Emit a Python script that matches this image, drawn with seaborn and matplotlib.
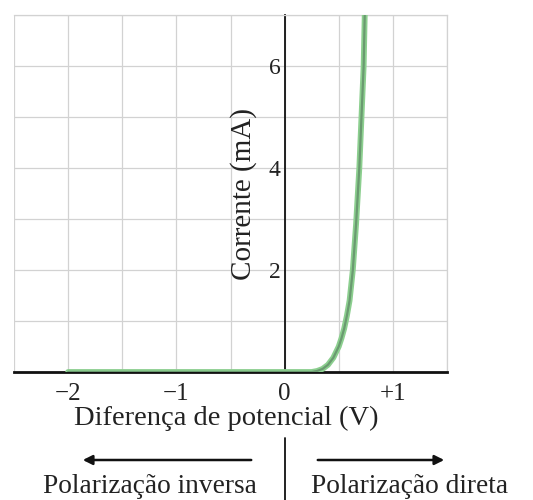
import numpy as np
import pandas as pd
import seaborn as sns
import matplotlib
matplotlib.use("Agg")
import matplotlib.pyplot as plt
from matplotlib.lines import Line2D

# diode I-V curve
voltage = [-2.0, -1.0, 0.0, 0.25, 0.30, 0.35, 0.40, 0.45, 0.50, 0.525, 0.55,
           0.575, 0.60, 0.63, 0.66, 0.69, 0.71, 0.73, 0.74]
current = [0.0, 0.0, 0.0, 0.0, 0.02, 0.06, 0.14, 0.28, 0.50, 0.66, 0.85,
           1.10, 1.40, 2.00, 2.90, 4.00, 5.00, 6.00, 7.00]

x_ticks = [-2, -1, 0, 1]
x_tick_labels = ["\u22122", "\u22121", "0", "+1"]
y_ticks = [2, 4, 6]
y_tick_labels = ["2", "4", "6"]

df = pd.DataFrame({"V": voltage, "I": current})

sns.set_theme(style="whitegrid")
plt.rcParams["font.family"] = ["Liberation Serif", "DejaVu Serif"]

W, H = 533, 500
fig = plt.figure(figsize=(W / 100, H / 100), dpi=100)
ax = fig.add_axes([14 / W, 1 - 372 / H, (447 - 14) / W, (372 - 15) / H])

sns.lineplot(data=df, x="V", y="I", ax=ax, color="#8ccf8f", lw=4.2,
             estimator=None, zorder=3)
sns.lineplot(data=df, x="V", y="I", ax=ax, color="#6a9a70", lw=1.6,
             estimator=None, zorder=4)

ax.set_xlim(-2.5, 1.5)
ax.set_ylim(0, 7)

# grid every 0.5 V and every 1 mA
grid_x = np.arange(-2.5, 1.51, 0.5)
ax.set_xticks(grid_x)
ax.set_xticklabels([x_tick_labels[x_ticks.index(int(t))] if t in x_ticks else ""
                    for t in grid_x])
ax.set_yticks(range(0, 8))
ax.set_yticklabels([y_tick_labels[y_ticks.index(t)] if t in y_ticks else ""
                    for t in range(0, 8)])
ax.grid(True, color="#d2d2d2", lw=0.9)
ax.tick_params(axis="x", length=0, pad=8, labelsize=18, colors="#222222")
ax.tick_params(axis="y", length=3, pad=3, labelsize=17, colors="#222222",
               direction="in")
ax.set_xlabel("")
ax.set_ylabel("")

ax.spines["left"].set_position(("data", 0))
ax.spines["left"].set_color("#111111")
ax.spines["left"].set_linewidth(1.3)
ax.spines["bottom"].set_color("#111111")
ax.spines["bottom"].set_linewidth(2.0)
for s in ["top", "right"]:
    ax.spines[s].set_color("#d2d2d2")
    ax.spines[s].set_linewidth(0.9)

ax.text(-0.38, 3.5, "Corrente (mA)", rotation=90, ha="center", va="center",
        fontsize=21, color="#222222")

# labels and arrows under the axes
fig.text(226 / W, 1 - 425 / H, "Diferença de potencial (V)", ha="center",
         va="baseline", fontsize=20.5, color="#222222")
fig.add_artist(Line2D([285 / W, 285 / W], [1 - 438 / H, 0], color="#111111",
                      lw=1.3, transform=fig.transFigure))
ax.annotate("", xy=(80 / W, 1 - 460 / H), xytext=(254 / W, 1 - 460 / H),
            xycoords="figure fraction", textcoords="figure fraction",
            arrowprops=dict(arrowstyle="-|>", color="#111111", lw=1.8,
                            mutation_scale=14))
ax.annotate("", xy=(447 / W, 1 - 460 / H), xytext=(315 / W, 1 - 460 / H),
            xycoords="figure fraction", textcoords="figure fraction",
            arrowprops=dict(arrowstyle="-|>", color="#111111", lw=1.8,
                            mutation_scale=14))
fig.text(150 / W, 1 - 493 / H, "Polarização inversa", ha="center",
         va="baseline", fontsize=19.7, color="#222222")
fig.text(410 / W, 1 - 493 / H, "Polarização direta", ha="center",
         va="baseline", fontsize=19.7, color="#222222")

fig.savefig("out.png", dpi=100)
